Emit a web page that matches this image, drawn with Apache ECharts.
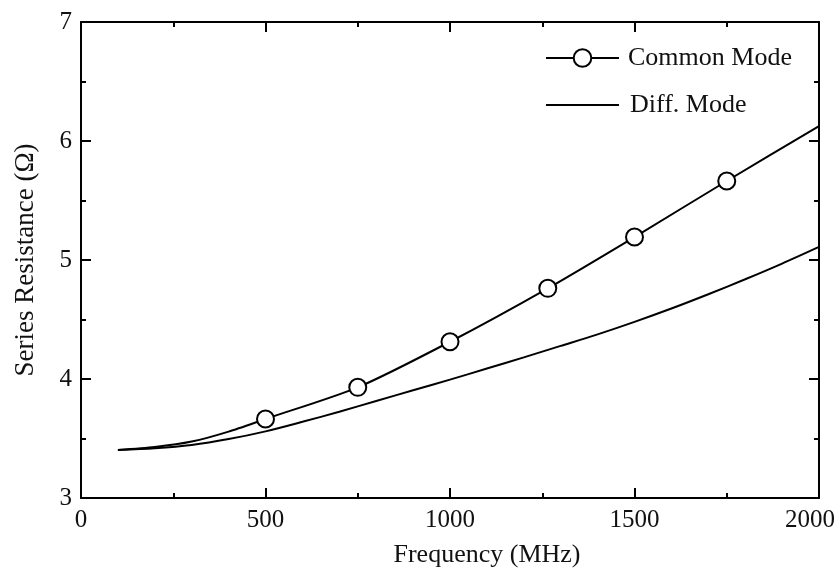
<!DOCTYPE html>
<html>
<head>
<meta charset="utf-8">
<script src="https://cdn.jsdelivr.net/npm/echarts@6/dist/echarts.min.js"></script>
<style>
  html, body { margin: 0; padding: 0; background: #fff; }
  #chart { width: 839px; height: 576px; }
</style>
</head>
<body>
<div id="chart"></div>
<script>
// values
const commonFreq = [100, 200, 300, 400, 500, 750, 1000, 1265, 1500, 1750, 2000];
const commonRes = [3.403, 3.428, 3.474, 3.558, 3.664, 3.93, 4.313, 4.762, 5.193, 5.664, 6.125];
// only these points carry a circle marker
const commonMarked = [500, 750, 1000, 1265, 1500, 1750];

const diffFreq = [100, 200, 300, 400, 500, 600, 700, 800, 900, 1000, 1100, 1200, 1300, 1400, 1500, 1600, 1700, 1800, 1900, 2000];
const diffRes = [3.403, 3.418, 3.446, 3.495, 3.56, 3.64, 3.725, 3.815, 3.905, 3.995, 4.088, 4.182, 4.278, 4.375, 4.48, 4.592, 4.712, 4.838, 4.97, 5.11];

const xTicks = [0, 500, 1000, 1500, 2000];
const yTicks = [3, 4, 5, 6, 7];

const FONT = '"Liberation Serif", "Times New Roman", serif';

const chart = echarts.init(document.getElementById('chart'));

const commonData = commonFreq.map(function (f, i) {
  const marked = commonMarked.indexOf(f) >= 0;
  return { value: [f, commonRes[i]], symbol: marked ? 'circle' : 'none' };
});
const diffData = diffFreq.map(function (f, i) { return [f, diffRes[i]]; });

const axisBase = {
  axisLine: { show: true, onZero: false, lineStyle: { color: '#000', width: 2 } },
  axisTick: { show: true, inside: true, length: 10, lineStyle: { color: '#000', width: 2 } },
  minorTick: { show: true, splitNumber: 2, length: 5, lineStyle: { color: '#000', width: 2 } },
  splitLine: { show: false }
};

const option = {
  animation: false,
  backgroundColor: '#fff',
  textStyle: { fontFamily: FONT },
  grid: { left: 81, right: 20, top: 22, bottom: 78 },
  legend: [
    {
      data: ['Common Mode'],
      left: 540, top: 40,
      itemWidth: 73, itemHeight: 22,
      textStyle: { fontFamily: FONT, fontSize: 26, color: '#111', padding: [0, 0, 0, 4] }
    },
    {
      data: ['Diff. Mode'],
      left: 540, top: 87,
      itemWidth: 73, itemHeight: 22,
      itemStyle: { opacity: 0 },
      lineStyle: { color: '#000', width: 2, opacity: 1 },
      textStyle: { fontFamily: FONT, fontSize: 26, color: '#111', padding: [0, 0, 0, 6] }
    }
  ],
  xAxis: [
    Object.assign({}, axisBase, {
      type: 'value', min: xTicks[0], max: xTicks[xTicks.length - 1], interval: 500,
      name: 'Frequency (MHz)', nameLocation: 'middle', nameGap: 44,
      nameTextStyle: { fontFamily: FONT, fontSize: 26, color: '#111', padding: [0, 0, 0, 74] },
      axisLabel: {
        fontFamily: FONT, fontSize: 25, color: '#111', margin: 10,
        formatter: function (v) { return v === 2000 ? '{r|' + v + '}' : String(v); },
        rich: { r: { fontFamily: FONT, fontSize: 25, color: '#111', padding: [0, 18, 0, 0] } }
      }
    }),
    Object.assign({}, axisBase, {
      type: 'value', position: 'top', min: 0, max: 2000, interval: 500,
      axisLabel: { show: false }
    })
  ],
  yAxis: [
    Object.assign({}, axisBase, {
      type: 'value', min: yTicks[0], max: yTicks[yTicks.length - 1], interval: 1,
      name: 'Series Resistance (Ω)', nameLocation: 'middle', nameGap: 42,
      nameTextStyle: { fontFamily: FONT, fontSize: 27, color: '#111' },
      axisLabel: { fontFamily: FONT, fontSize: 25, color: '#111', margin: 9 }
    }),
    Object.assign({}, axisBase, {
      type: 'value', position: 'right', min: 3, max: 7, interval: 1,
      axisLabel: { show: false }
    })
  ],
  series: [
    {
      name: 'Common Mode',
      type: 'line',
      data: commonData,
      smooth: 0.25,
      symbol: 'circle',
      symbolSize: 17,
      showAllSymbol: true,
      lineStyle: { color: '#000', width: 2 },
      itemStyle: { color: '#fff', borderColor: '#000', borderWidth: 2 },
      z: 3
    },
    {
      name: 'Diff. Mode',
      type: 'line',
      data: diffData,
      smooth: 0.3,
      symbol: 'none',
      lineStyle: { color: '#000', width: 2 },
      itemStyle: { color: '#000' }
    }
  ]
};

chart.setOption(option);
</script>
</body>
</html>
